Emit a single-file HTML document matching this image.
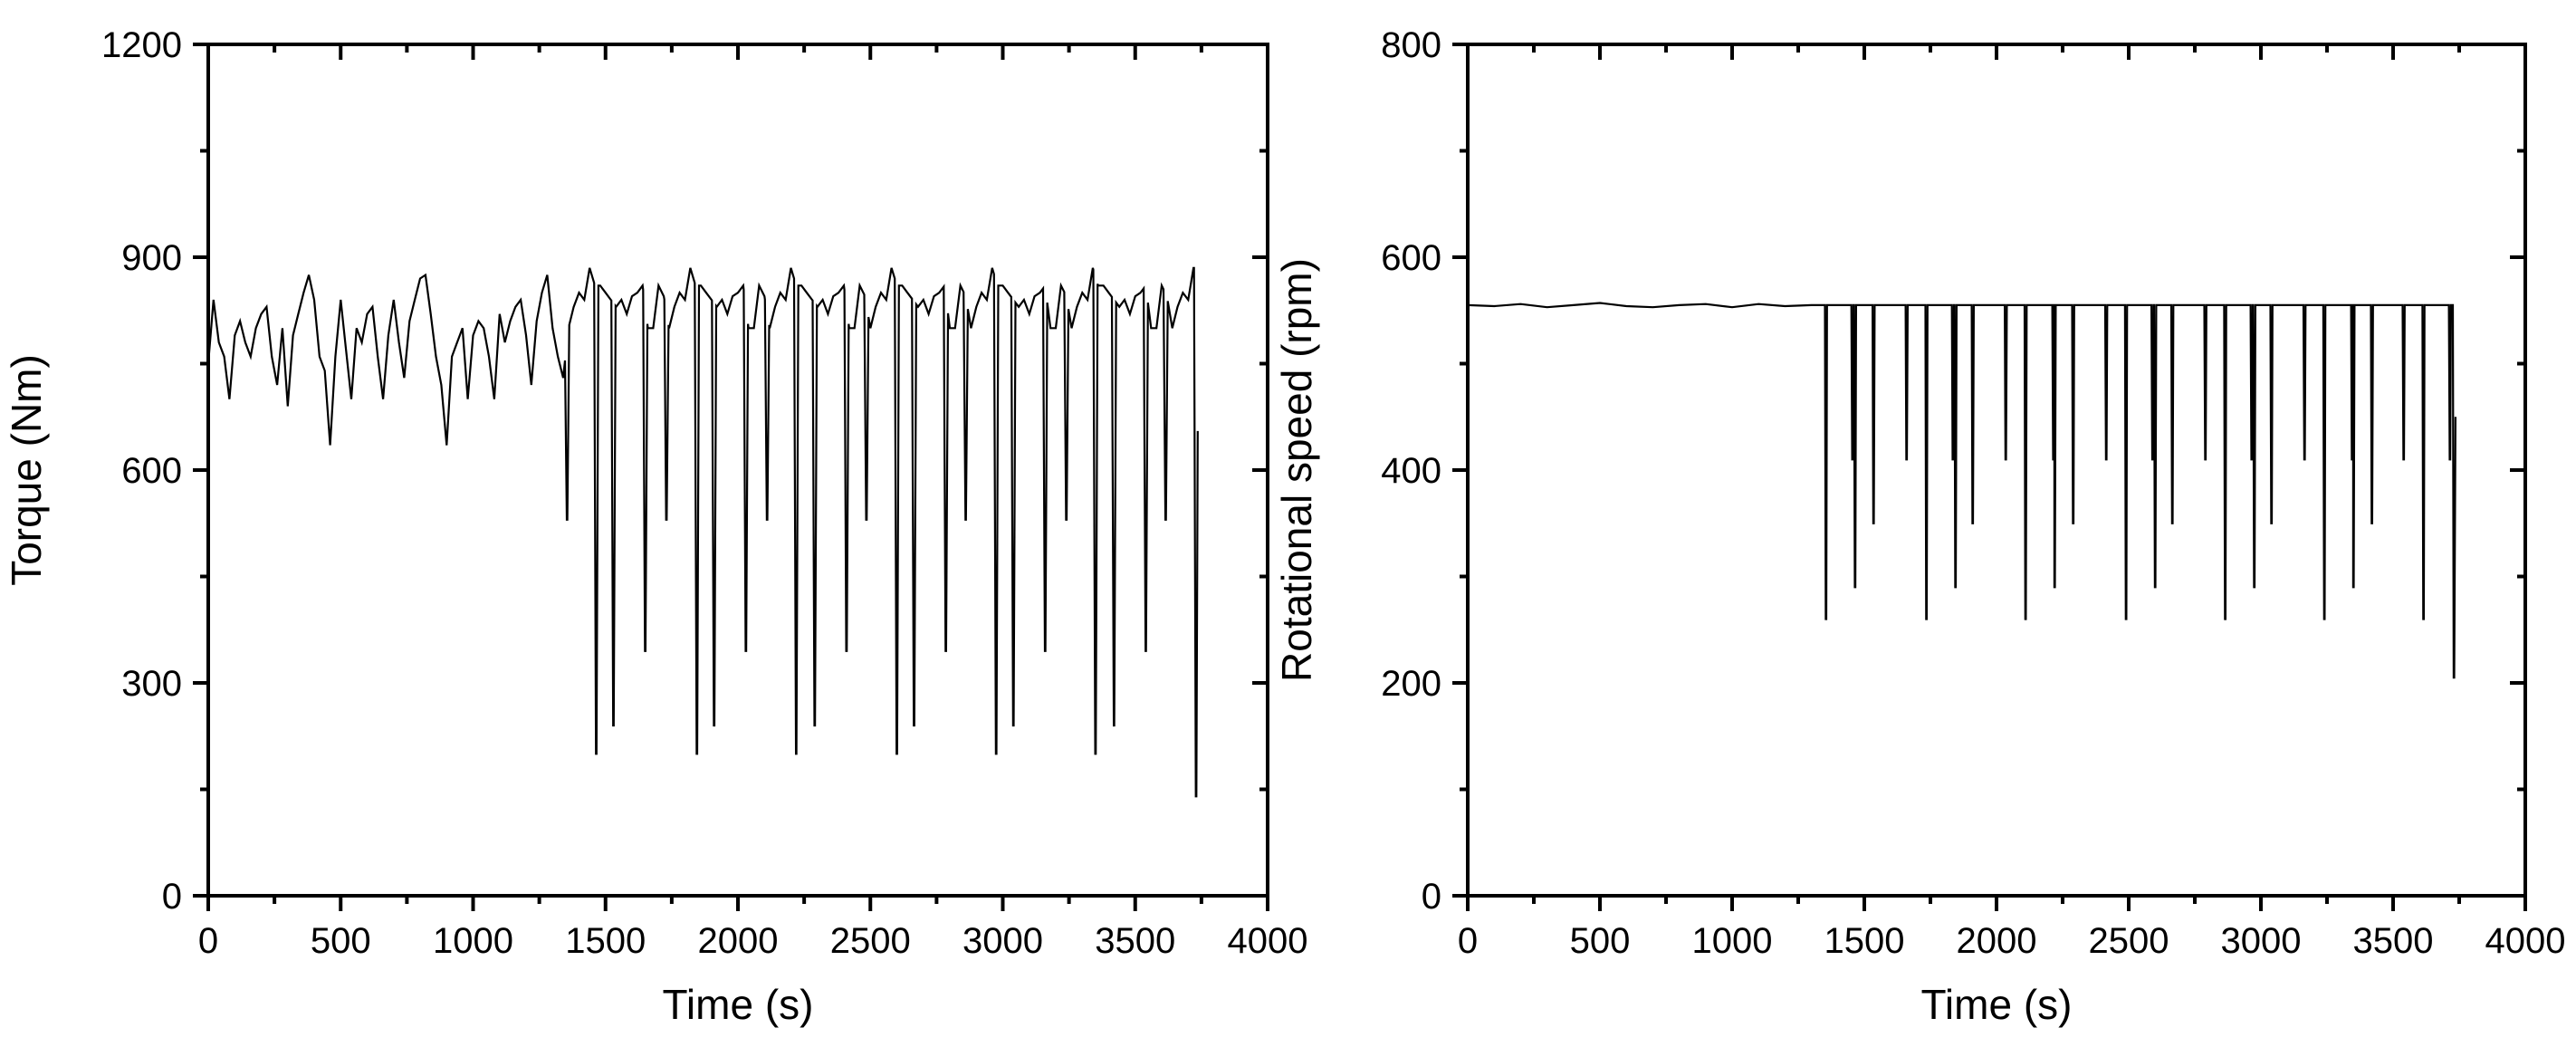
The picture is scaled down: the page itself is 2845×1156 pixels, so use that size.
<!DOCTYPE html>
<html><head><meta charset="utf-8"><style>
html,body{margin:0;padding:0;background:#fff}
svg text{font-family:"Liberation Sans",Arial,sans-serif;fill:#000}
</style></head><body>
<svg id="svg" width="2845" height="1151" viewBox="0 0 2845 1151" xmlns="http://www.w3.org/2000/svg">
<g id="left"></g>
<g id="right"></g>
</svg>
<script>
// ---- data ----
const xTicks = [0,500,1000,1500,2000,2500,3000,3500,4000];
const torqueTicks = [0,300,600,900,1200];
const speedTicks = [0,200,400,600,800];
// torque baseline, sampled every 20 s from 0 s
const torqueBase = [750,840,780,760,700,790,810,780,760,800,820,830,760,720,800,690,790,820,850,875,840,760,740,
635,760,840,770,700,800,780,820,830,760,700,790,840,780,730,810,840,870,875,820,760,720,635,760,780,800,700,790,810,800,760,700,820,780,810,830,840,790,720,810,850,875,800,760,730,
800,830,850,840,885,860,860,850,840,830,840,820,845,850,860,800,800,860,845,
800,830,850,840,885,860,860,850,840,830,840,820,845,850,860,800,800,860,845,
800,830,850,840,885,860,860,850,840,830,840,820,845,850,860,800,800,860,845,
800,830,850,840,885,860,860,850,840,830,840,820,845,850,860,800,800,860,845,
800,830,850,840,885,860,860,850,840,830,840,820,845,850,860,800,800,860,845,
800,830,850,840,885,860,860,850,840,830,840,820,845,850,860,800,800,860,845,
800,830,850,840,885];
const torqueDropT = [1355,1465,1530,1650,1730,1845,1910,2030,2110,2220,2290,2410,2485,2600,2665,2785,2860,2975,3040,3160,3240,3350,3420,3540,3615,3730];
const torqueDropV = [530,200,240,345,530,200,240,345,530,200,240,345,530,200,240,345,530,200,240,345,530,200,240,345,530,140];
// speed baseline every 100 s
const speedBase = [555,554,556,553,555,557,554,553,555,556,553,556,554,555,555,555,555,555,555,555,555,555,555,555,555,555,555,555,555,555,555,555,555,555,555,555,555,555];
const speedDropT = [1355,1455,1465,1535,1660,1735,1835,1845,1910,2035,2110,2215,2220,2290,2415,2490,2590,2600,2665,2790,2865,2965,2975,3040,3165,3240,3345,3350,3420,3540,3615,3715,3730];
const speedDropV = [260,410,290,350,410,260,410,290,350,410,260,410,290,350,410,260,410,290,350,410,260,410,290,350,410,260,410,290,350,410,260,410,205];

const NS="http://www.w3.org/2000/svg";
function mk(tag,attrs,parent){const e=document.createElementNS(NS,tag);for(const k in attrs)e.setAttribute(k,attrs[k]);parent.appendChild(e);return e;}

function buildSeries(baseT,baseV,dT,dV,w){
  let pts=[];
  for(let i=0;i<baseT.length;i++)pts.push([baseT[i],baseV[i]]);
  function baseAt(t){for(let i=0;i<baseT.length-1;i++){if(t>=baseT[i]&&t<=baseT[i+1]){const f=(t-baseT[i])/(baseT[i+1]-baseT[i]);return baseV[i]+f*(baseV[i+1]-baseV[i]);}}return baseV[baseV.length-1];}
  pts=pts.filter(p=>!dT.some(t=>Math.abs(p[0]-t)<w+1));
  for(let i=0;i<dT.length;i++){pts.push([dT[i]-w,baseAt(dT[i]-w)]);pts.push([dT[i]-1,dV[i]]);pts.push([dT[i]+1,dV[i]]);pts.push([dT[i]+w,baseAt(dT[i]+w)]);}
  pts.sort((a,b)=>a[0]-b[0]);
  return pts;
}

function chart(g,ax,yTicks,yMax,yTitle,series,endV){
  const X0=ax.x0,X1=ax.x1,Y0=989,Y1=49;
  const sx=v=>X0+(v/4000)*(X1-X0), sy=v=>Y0-(v/yMax)*(Y0-Y1);
  const frame=mk('rect',{x:X0,y:Y1,width:X1-X0,height:Y0-Y1,fill:'none',stroke:'#000','stroke-width':4},g);
  
  
  for(let i=0;i<xTicks.length;i++){
    const x=sx(xTicks[i]);
    mk('line',{x1:x,y1:Y0,x2:x,y2:Y0+17,stroke:'#000','stroke-width':4},g);
    mk('line',{x1:x,y1:Y1,x2:x,y2:Y1+17,stroke:'#000','stroke-width':4},g);
    if(i<xTicks.length-1){const xm=sx(xTicks[i]+250);
      mk('line',{x1:xm,y1:Y0,x2:xm,y2:Y0+9,stroke:'#000','stroke-width':4},g);
      mk('line',{x1:xm,y1:Y1,x2:xm,y2:Y1+9,stroke:'#000','stroke-width':4},g);}
    const t=mk('text',{x:x,y:1052,'font-size':40,'text-anchor':'middle'},g);t.textContent=xTicks[i];
    
    
  }
  const step=yTicks[1]-yTicks[0];
  for(let i=0;i<yTicks.length;i++){
    const y=sy(yTicks[i]);
    mk('line',{x1:X0-17,y1:y,x2:X0,y2:y,stroke:'#000','stroke-width':4},g);
    mk('line',{x1:X1-17,y1:y,x2:X1,y2:y,stroke:'#000','stroke-width':4},g);
    if(i<yTicks.length-1){const ym=sy(yTicks[i]+step/2);
      mk('line',{x1:X0-9,y1:ym,x2:X0,y2:ym,stroke:'#000','stroke-width':4},g);
      mk('line',{x1:X1-9,y1:ym,x2:X1,y2:ym,stroke:'#000','stroke-width':4},g);}
    const t=mk('text',{x:X0-29,y:y+14,'font-size':40,'text-anchor':'end'},g);t.textContent=yTicks[i];
    
    
  }
  const xt=mk('text',{x:(X0+X1)/2,y:1125,'font-size':46,'text-anchor':'middle'},g);xt.textContent='Time (s)';
  
  
  const yt=mk('text',{x:0,y:0,'font-size':46,'text-anchor':'middle',transform:`translate(${ax.ty},${(Y0+Y1)/2}) rotate(-90)`},g);yt.textContent=yTitle;
  
  
  let d=series.map((p,i)=>(i?'L':'M')+sx(p[0]).toFixed(1)+' '+sy(p[1]).toFixed(1)).join(' ');
  if(endV!==undefined){d+=' L'+sx(3736).toFixed(1)+' '+sy(endV).toFixed(1);}
  const path=mk('path',{d:d,fill:'none',stroke:'#000','stroke-width':2.2,'stroke-linejoin':'miter'},g);
  
  
}

const tT=torqueBase.map((v,i)=>i*20);
const tS=speedBase.map((v,i)=>i*100);
const torqueSeries=buildSeries(tT,torqueBase,torqueDropT,torqueDropV,8).filter(p=>p[0]<=3731);
const speedSeries=buildSeries(tS,speedBase,speedDropT,speedDropV,4).filter(p=>p[0]<=3731);
chart(document.getElementById('left'),{x0:230,x1:1400,ty:45},torqueTicks,1200,'Torque (Nm)',torqueSeries,655);
chart(document.getElementById('right'),{x0:1621,x1:2789,ty:1448},speedTicks,800,'Rotational speed (rpm)',speedSeries,450);
</script>
</body></html>
